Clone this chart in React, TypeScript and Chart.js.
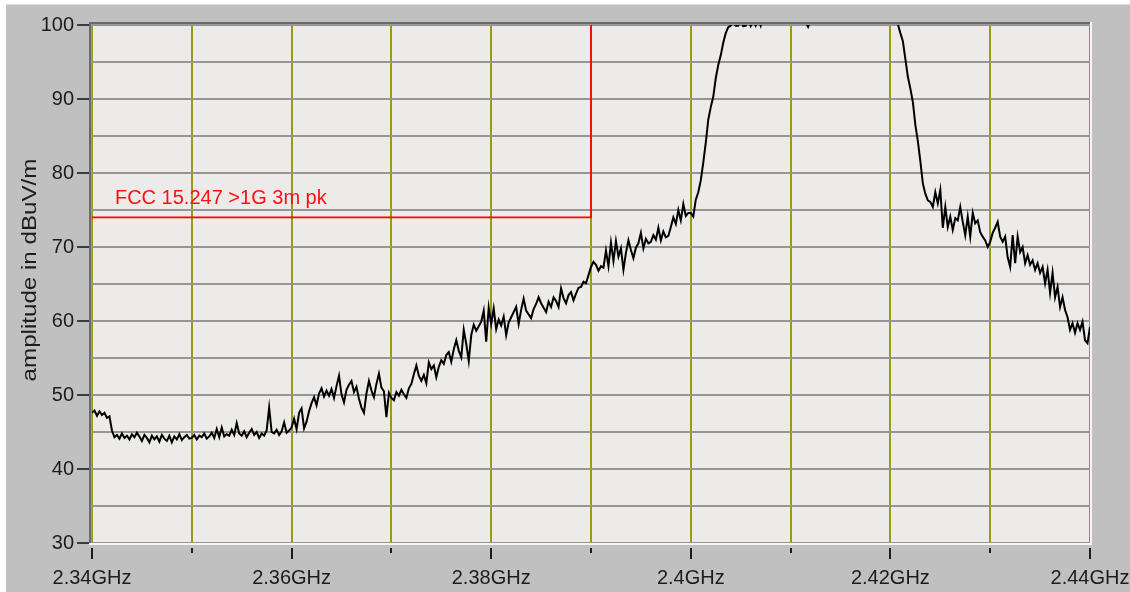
import { useEffect, useRef } from 'react';
import { Chart, registerables } from 'chart.js';

Chart.register(...registerables);

// Sweep: 2.34 GHz to 2.44 GHz, one reading every 0.25 MHz
const SWEEP_START_GHZ = 2.34;
const SWEEP_STEP_GHZ = 0.00025;

// Measured amplitude (dBuV/m), one array per 10 MHz of span
const trace2340 = [
  47.6, 47.9, 47.2, 47.8, 47.3, 47.6, 46.9, 47.1,
  45.2, 44.3, 44.6, 44.1, 44.8, 44.2, 44.5, 44.0,
  44.7, 44.3, 44.9, 44.4, 43.8, 44.6, 44.2, 43.6,
  44.5, 44.0, 44.4, 43.7, 44.6, 44.1, 43.8, 44.5,
  43.6, 44.4, 44.0, 44.7, 43.9, 44.3, 44.6, 44.1,
];
const trace2350 = [
  44.2, 44.6, 44.0, 44.5, 44.3, 44.8, 44.1, 44.4,
  44.9, 44.2, 45.4, 44.3, 45.6, 44.4, 44.7, 44.5,
  45.3, 44.6, 46.2, 44.8, 44.5, 45.1, 44.3, 44.9,
  45.4, 44.6, 45.0, 44.2, 44.8, 44.5, 45.2, 48.3,
  45.0, 44.8, 45.3, 44.6, 45.1, 46.3, 44.9, 45.2,
];
const trace2360 = [
  45.6, 46.8, 45.4, 47.6, 48.2, 45.5, 46.4, 47.8,
  48.9, 49.7, 48.6, 50.2, 50.9, 49.8, 50.6, 49.9,
  50.8, 49.6, 51.2, 52.6, 50.1, 49.0, 50.7, 51.4,
  51.9, 50.4, 51.1, 49.5, 48.3, 47.6, 50.2, 51.9,
  50.6, 49.7, 51.5, 52.9, 51.0, 50.5, 47.0, 50.3,
];
const trace2370 = [
  49.6, 49.3, 50.4, 49.9, 50.7, 50.1, 49.6, 50.9,
  51.5, 52.8, 54.0, 52.6, 51.9, 52.7, 51.6, 54.4,
  53.5, 54.0, 52.4, 53.8, 54.7, 54.2, 55.4, 55.8,
  54.5, 56.2, 57.4, 56.0, 55.1, 58.8, 56.9, 54.6,
  58.1, 59.5, 58.7, 59.3, 59.9, 61.4, 57.2, 61.8,
];
const trace2380 = [
  59.6, 61.7, 58.9, 60.2, 59.4, 60.6, 58.1, 59.8,
  60.5, 61.2, 61.9, 59.6, 61.5, 63.0, 61.4, 60.9,
  60.4, 61.6, 62.3, 63.2, 62.4, 61.8, 61.2, 62.6,
  61.9, 63.2, 62.7, 61.9, 64.4, 63.1, 62.4, 63.5,
  63.9, 62.8, 63.7, 64.5, 64.6, 65.3, 65.1, 66.2,
];
const trace2390 = [
  67.3, 68.0, 67.6, 66.8, 67.4, 67.2, 69.5, 67.4,
  70.6, 68.1, 70.8, 68.7, 69.8, 66.9, 69.2, 70.9,
  69.6, 68.5, 69.9, 70.5, 71.9, 69.8, 71.1, 70.5,
  70.7, 71.6, 71.0, 72.6, 70.9, 72.1, 71.3, 71.5,
  72.7, 74.0, 73.1, 75.0, 73.6, 75.8, 74.2, 74.6,
];
const trace2400 = [
  74.6, 74.1, 76.4, 77.4, 79.0, 81.4, 84.1, 87.2,
  88.9, 90.3, 92.8, 94.6, 95.9, 97.6, 98.9, 99.7,
  99.9, 100.4, 99.9, 99.9, 100.5, 99.85, 99.9, 100.6,
  99.85, 100.5, 99.9, 100.7, 99.9, 101.4, 102.6, 103.1,
  102.8, 103.4, 102.9, 103.2, 102.7, 103.5, 103.0, 103.3,
];
const trace2410 = [
  102.9, 103.4, 102.7, 103.1, 102.4, 101.6, 100.4, 99.75,
  100.6, 102.1, 103.0, 103.6, 102.8, 103.3, 103.9, 103.1,
  102.6, 103.4, 103.8, 103.0, 103.5, 102.9, 103.7, 103.2,
  102.8, 103.6, 103.1, 103.9, 103.3, 102.7, 103.5, 103.0,
  103.8, 103.2, 102.9, 103.4, 102.8, 103.1, 102.5, 102.9,
];
const trace2420 = [
  102.4, 102.0, 101.3, 100.1, 98.9, 97.8, 95.4, 93.0,
  91.4, 89.6, 86.5, 84.3, 81.6, 78.6, 77.2, 76.3,
  76.1, 75.4, 77.4, 75.9, 77.7, 72.6, 75.4, 72.7,
  74.1, 72.3, 73.9, 73.6, 75.4, 73.4, 71.6, 74.1,
  71.4, 74.6, 73.2, 73.6, 72.0, 71.4, 70.9, 70.0,
];
const trace2430 = [
  70.7, 71.9, 72.6, 73.4, 71.4, 70.7, 71.4, 68.6,
  67.3, 71.6, 67.8, 71.4, 69.3, 70.0, 67.8, 68.9,
  67.6, 68.2, 66.9, 67.8, 66.5, 67.3, 65.1, 66.9,
  63.8, 66.5, 63.2, 64.6, 61.9, 63.2, 61.5, 60.5,
  58.8, 59.7, 58.4, 59.7, 58.8, 59.9, 57.4, 57.0,
];
const trace2440 = [59.2];

// Limit line
const limitFreqs = [2.34, 2.39, 2.39];
const limitLevels = [74, 74, 100];
const limitLabel = 'FCC 15.247 >1G 3m pk';
const limitLabelFreq = 2.3423;
const limitLabelLevel = 76.6;

// Axes
const xTickValues = [2.34, 2.35, 2.36, 2.37, 2.38, 2.39, 2.4, 2.41, 2.42, 2.43, 2.44];
const xTickLabels = ['2.34GHz', '', '2.36GHz', '', '2.38GHz', '', '2.4GHz', '', '2.42GHz', '', '2.44GHz'];
const yTickValues = [30, 35, 40, 45, 50, 55, 60, 65, 70, 75, 80, 85, 90, 95, 100];
const yTickLabels = ['30', '', '40', '', '50', '', '60', '', '70', '', '80', '', '90', '', '100'];
const yAxisTitle = 'amplitude in dBuV/m';

const FONT = "'Liberation Sans', Arial, sans-serif";
const PANEL = '#c0c0c0';
const PLOT_BG = '#ecebe9';
const OLIVE = '#9a9a14';
const HGRID = '#959595';
const INK = '#1c1c1c';

const trace = [
  ...trace2340, ...trace2350, ...trace2360, ...trace2370, ...trace2380,
  ...trace2390, ...trace2400, ...trace2410, ...trace2420, ...trace2430, ...trace2440,
].map((y, i) => ({ x: SWEEP_START_GHZ + i * SWEEP_STEP_GHZ, y }));

const limit = limitFreqs.map((x, i) => ({ x, y: limitLevels[i] }));

const framePlugin = {
  id: 'analyzerFrame',
  beforeDraw(chart: any) {
    const { ctx, chartArea: a, width, height } = chart;
    ctx.save();
    ctx.fillStyle = '#ffffff';
    ctx.fillRect(0, 0, width, height);
    ctx.fillStyle = '#dadada';
    ctx.fillRect(6, 4, width - 6, 1);
    ctx.fillStyle = PANEL;
    ctx.fillRect(6, 5, width - 6, height - 5);
    ctx.fillStyle = PLOT_BG;
    ctx.fillRect(a.left, a.top, a.right - a.left, a.bottom - a.top);

    // y axis title, set slightly wide
    ctx.translate(30, 270);
    ctx.rotate(-Math.PI / 2);
    ctx.scale(1.15, 1);
    ctx.font = `21px ${FONT}`;
    ctx.fillStyle = INK;
    ctx.textAlign = 'center';
    ctx.textBaseline = 'middle';
    ctx.fillText(yAxisTitle, 0, 0);
    ctx.restore();
  },
  beforeDatasetsDraw(chart: any) {
    const { ctx, chartArea: a, scales } = chart;
    ctx.save();
    // sunken bevel round the plot
    ctx.fillStyle = '#f6f6f6';
    ctx.fillRect(a.right, a.top - 3, 2, a.bottom - a.top + 5);
    ctx.fillRect(a.left - 3, a.bottom, a.right - a.left + 5, 2);
    ctx.fillStyle = '#6a6a6a';
    ctx.fillRect(a.left - 3, a.top - 3, a.right - a.left + 3, 2);
    ctx.fillRect(a.left - 3, a.top - 3, 2, a.bottom - a.top + 3);
    ctx.fillStyle = '#9a9a9a';
    ctx.fillRect(a.left - 1, a.top - 1, a.right - a.left + 1, 1);
    ctx.fillRect(a.left - 1, a.top - 1, 1, a.bottom - a.top + 1);

    // tick marks
    ctx.strokeStyle = INK;
    ctx.lineWidth = 2;
    xTickValues.forEach((v, i) => {
      const px = Math.round(scales.x.getPixelForValue(v));
      ctx.beginPath();
      ctx.moveTo(px, a.bottom + 5);
      ctx.lineTo(px, a.bottom + (xTickLabels[i] ? 16 : 10));
      ctx.stroke();
    });
    ctx.lineWidth = 1.6;
    yTickValues.forEach((v, i) => {
      if (!yTickLabels[i]) return;
      const py = Math.round(scales.y.getPixelForValue(v));
      ctx.beginPath();
      ctx.moveTo(a.left - 15, py);
      ctx.lineTo(a.left - 3, py);
      ctx.stroke();
    });
    ctx.restore();
  },
  afterDatasetsDraw(chart: any) {
    const { ctx, scales } = chart;
    ctx.save();
    ctx.font = `20px ${FONT}`;
    ctx.fillStyle = '#ff1010';
    ctx.textAlign = 'left';
    ctx.textBaseline = 'middle';
    ctx.fillText(
      limitLabel,
      scales.x.getPixelForValue(limitLabelFreq),
      scales.y.getPixelForValue(limitLabelLevel),
    );
    ctx.restore();
  },
};

export default function App() {
  const canvasRef = useRef<HTMLCanvasElement>(null);

  useEffect(() => {
    document.body.style.margin = '0';
    const canvas = canvasRef.current;
    if (!canvas) return;
    const chart = new Chart(canvas, {
      type: 'line',
      data: {
        datasets: [
          {
            data: trace,
            borderColor: '#000000',
            borderWidth: 2,
            pointRadius: 0,
            tension: 0,
            clip: 0,
          },
          {
            data: limit,
            borderColor: '#ff0000',
            borderWidth: 1.8,
            pointRadius: 0,
            tension: 0,
            clip: 0,
          },
        ],
      },
      options: {
        responsive: false,
        animation: false,
        devicePixelRatio: 1,
        layout: { padding: { top: 25, right: 40, left: 0, bottom: 0 } },
        plugins: {
          legend: { display: false },
          tooltip: { enabled: false },
        },
        scales: {
          x: {
            type: 'linear',
            position: 'bottom',
            min: 2.34,
            max: 2.44,
            afterBuildTicks: (axis: any) => {
              axis.ticks = xTickValues.map((value) => ({ value }));
            },
            afterFit: (axis: any) => {
              axis.height = 49;
            },
            ticks: {
              autoSkip: false,
              maxRotation: 0,
              padding: 0,
              color: INK,
              font: { family: FONT, size: 20 },
              callback: (_v: any, i: number) => xTickLabels[i],
            },
            grid: {
              color: OLIVE,
              lineWidth: 2,
              drawTicks: true,
              tickLength: 23,
              tickColor: 'rgba(0,0,0,0)',
            },
            border: { display: false },
          },
          y: {
            type: 'linear',
            min: 30,
            max: 100,
            afterBuildTicks: (axis: any) => {
              axis.ticks = yTickValues.map((value) => ({ value }));
            },
            afterFit: (axis: any) => {
              axis.width = 92;
            },
            ticks: {
              autoSkip: false,
              padding: 0,
              color: INK,
              font: { family: FONT, size: 20 },
              callback: (_v: any, i: number) => yTickLabels[i],
            },
            grid: {
              color: HGRID,
              lineWidth: 2,
              drawTicks: true,
              tickLength: 18,
              tickColor: 'rgba(0,0,0,0)',
            },
            border: { display: false },
          },
        },
      },
      plugins: [framePlugin],
    });
    return () => chart.destroy();
  }, []);

  return (
    <div style={{ width: 1130, height: 592 }}>
      <canvas ref={canvasRef} width={1130} height={592} style={{ display: 'block' }} />
    </div>
  );
}
